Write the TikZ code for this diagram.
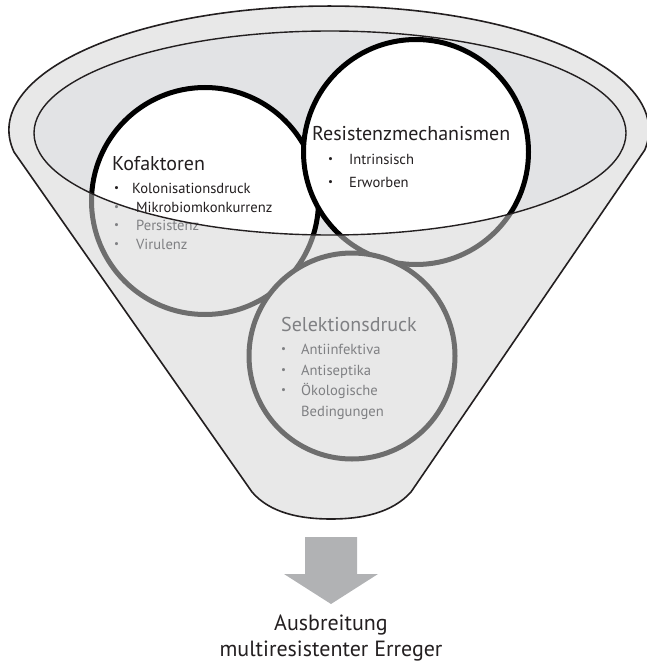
\documentclass[tikz,border=0pt]{standalone}
\usepackage{fontspec}
\setmainfont{PT Sans}
\usepackage{xcolor}
\definecolor{textBlack}{HTML}{231F20}
\definecolor{textGray}{HTML}{7F8083}
\definecolor{rimGray}{HTML}{E2E3E5}
\definecolor{arrowGray}{HTML}{B1B2B4}

% outline of the funnel (rim top + sides + spout)
\newcommand{\funnelOutline}{(14,152) arc[start angle=169.8, end angle=369.3, x radius=320, y radius=124]
  -- (411,492) .. controls (392,513) and (362,519) .. (331,519)
  .. controls (300,519) and (270,513) .. (252,492) -- cycle}
\newcommand{\itemdot}{\raisebox{0.2ex}{\scalebox{0.75}{\textbullet}}}

\tikzset{
  ring/.style={circle, draw=black, fill=white, line width=5bp, inner sep=0},
  headtext/.style={anchor=base west, inner sep=0, font=\fontsize{20bp}{24bp}\selectfont},
  itemtext/.style={anchor=base west, inner sep=0, font=\fontsize{14.6bp}{18bp}\selectfont},
  resulttext/.style={anchor=base, inner sep=0, textBlack, font=\fontsize{22bp}{26bp}\selectfont},
}

\begin{document}
\begin{tikzpicture}[x=1bp, y=-1bp]
  \useasboundingbox (0,0) rectangle (647,663);

  % Funnel body
  \fill[white] \funnelOutline;
  \fill[rimGray] (330,133) ellipse[x radius=296, y radius=102];

  % Circles
  \node[ring, minimum size=227bp] (kof) at (205,201) {};
  \node[ring, minimum size=225bp] (res) at (416,152) {};
  \node[ring, minimum size=206bp] (sel) at (352,356) {};

  % front of the funnel, lies over everything outside the rim
  \fill[black!17, opacity=0.52, even odd rule] \funnelOutline (330,133) ellipse[x radius=296, y radius=102];

  % Kofaktoren
  \node[headtext, textBlack] (kofTitle) at (112,170) {Kofaktoren};
  \node[itemtext, textBlack] (kofA) at (114,193) {\makebox[18bp][l]{\itemdot}Kolonisationsdruck};
  \node[itemtext, textBlack] (kofB) at (114,212) {\makebox[22bp][l]{\color{textGray}\itemdot}Mikrobiomkonkurrenz};
  \node[itemtext, textGray] (kofC) at (114,230) {\makebox[22bp][l]{\itemdot}Persistenz};
  \node[itemtext, textGray] (kofD) at (114,249) {\makebox[22bp][l]{\itemdot}Virulenz};

  % Resistenzmechanismen
  \node[headtext, textBlack] (resTitle) at (312,140) {Resistenzmechanismen};
  \node[itemtext, textBlack] (resA) at (328,164) {\makebox[21bp][l]{\itemdot}Intrinsisch};
  \node[itemtext, textBlack] (resB) at (328,187) {\makebox[21bp][l]{\itemdot}Erworben};

  % Selektionsdruck
  \node[headtext, textGray] (selTitle) at (281,331) {Selektionsdruck};
  \node[itemtext, textGray] (selA) at (281,354) {\makebox[20bp][l]{\itemdot}Antiinfektiva};
  \node[itemtext, textGray] (selB) at (281,375) {\makebox[20bp][l]{\itemdot}Antiseptika};
  \node[itemtext, textGray] (selC) at (281,395) {\makebox[20bp][l]{\itemdot}Ökologische};
  \node[itemtext, textGray] (selD) at (301,416) {Bedingungen};

  % Outlines
  \draw[textBlack, line width=1.6bp] \funnelOutline;
  \draw[textBlack, line width=1.4bp] (330,133) ellipse[x radius=296, y radius=102];

  % Result
  \node[resulttext] (spread) at (331,630) {Ausbreitung};
  \node[resulttext] (mrp) at (331,656) {multiresistenter Erreger};
  \coordinate (flowTop) at (331,537);
  \fill[arrowGray] (flowTop) ++(-26,0) -- ++(52,0) -- ++(0,37) -- ++(21,0) -- (331,604) -- (284,574) -- ++(21,0) -- cycle;
\end{tikzpicture}
\end{document}
